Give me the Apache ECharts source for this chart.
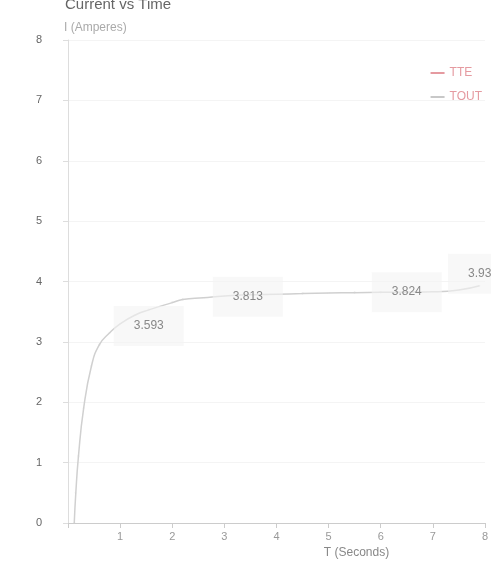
<!DOCTYPE html>
<html>
<head>
<meta charset="utf-8">
<script src="https://cdn.jsdelivr.net/npm/echarts@6/dist/echarts.min.js"></script>
<style>html,body{margin:0;padding:0;background:#fff;}#c{width:491px;height:580px;}</style>
</head>
<body>
<div id="c"></div>
<script>
var timeValues = [0.12, 0.15, 0.2, 0.3, 0.45, 0.6, 0.8, 1.0, 1.3, 1.55, 2.0, 2.2, 2.6, 3.0, 3.45, 4.0, 4.5, 5.0, 5.5, 6.0, 6.5, 7.0, 7.5, 7.9];
var currentValues = [0.0, 0.5, 1.1, 1.9, 2.6, 2.95, 3.15, 3.3, 3.45, 3.53, 3.65, 3.7, 3.73, 3.76, 3.78, 3.79, 3.8, 3.81, 3.815, 3.82, 3.824, 3.83, 3.86, 3.93];
var labelledIndex = {9: '3.593', 14: '3.813', 20: '3.824', 23: '3.93'};
var labelShift = {9: [0, 16], 14: [0, 2], 20: [0, 0], 23: [0, -12]};
var legendNames = ['TTE', 'TOUT'];

var chart = echarts.init(document.getElementById('c'));
var pts = timeValues.map(function (t, i) {
  var item = {value: [t, currentValues[i]]};
  if (labelledIndex[i] !== undefined) {
    item.label = {show: true, formatter: labelledIndex[i], offset: labelShift[i]};
  }
  return item;
});
chart.setOption({
  animation: false,
  title: {text: 'Current vs Time', left: 60, top: -8, textStyle: {fontSize: 15, color: '#666', fontWeight: 'normal'}},
  legend: {
    data: legendNames, orient: 'vertical', right: 4, top: 62, itemGap: 12,
    itemWidth: 14, itemHeight: 2, icon: 'rect',
    textStyle: {color: '#e59aa0', fontSize: 12}
  },
  grid: {left: 68, right: -11, top: 40, bottom: 57},
  xAxis: {
    type: 'value', min: 0, max: 8, interval: 1,
    name: 'T (Seconds)', nameLocation: 'middle', nameGap: 24,
    nameTextStyle: {color: '#888', fontSize: 12, padding: [0, 0, 0, 160]},
    axisLine: {lineStyle: {color: '#ccc'}},
    axisTick: {show: true, lineStyle: {color: '#ccc'}},
    axisLabel: {color: '#999', fontSize: 11, formatter: function (v) { return v === 0 ? '' : v; }},
    splitLine: {show: false}
  },
  yAxis: {
    type: 'value', min: 0, max: 8, interval: 1,
    name: 'I (Amperes)', nameLocation: 'end', nameGap: 6,
    nameTextStyle: {color: '#aaa', fontSize: 12, align: 'left', padding: [0, 0, 0, -4]},
    axisLine: {show: true, lineStyle: {color: '#ddd'}},
    axisTick: {show: true, lineStyle: {color: '#ddd'}},
    axisLabel: {color: '#666', fontSize: 11, margin: 26},
    splitLine: {show: true, lineStyle: {color: '#f4f4f4'}}
  },
  series: [
    {
      name: 'TTE', type: 'line', data: [], color: '#e59aa0', showSymbol: false
    },
    {
      name: 'TOUT', type: 'line', data: pts, color: '#c8c8c8', smooth: true,
      showSymbol: true, symbolSize: 0.1, lineStyle: {width: 1.5, color: '#d0d0d0'},
      label: {
        show: false, position: 'inside', color: '#888', fontSize: 12,
        backgroundColor: 'rgba(244,244,244,0.6)', padding: [14, 20]
      }
    }
  ]
});
</script>
</body>
</html>
